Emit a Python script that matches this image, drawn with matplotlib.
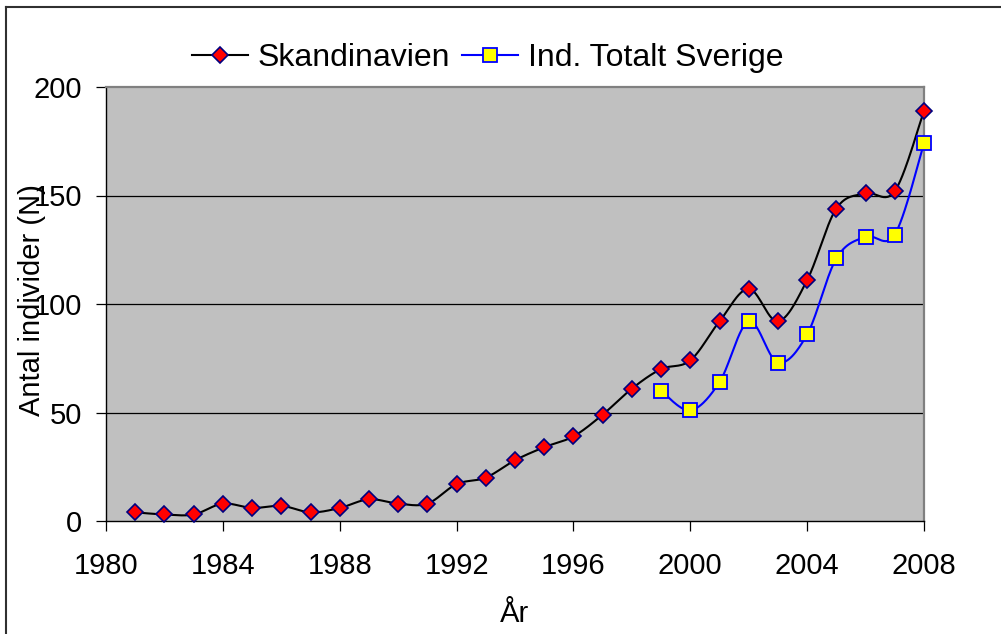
import numpy as np
import matplotlib
matplotlib.use("Agg")
import matplotlib.pyplot as plt
from matplotlib.lines import Line2D

# ---- data ----
years_skand = [1981, 1982, 1983, 1984, 1985, 1986, 1987, 1988, 1989, 1990,
               1991, 1992, 1993, 1994, 1995, 1996, 1997, 1998, 1999, 2000,
               2001, 2002, 2003, 2004, 2005, 2006, 2007, 2008]
skandinavien = [4, 3, 3, 8, 6, 7, 4, 6, 10, 8,
                8, 17, 20, 28, 34, 39, 49, 61, 70, 74,
                92, 107, 92, 111, 144, 151, 152, 189]
years_sverige = [1999, 2000, 2001, 2002, 2003, 2004, 2005, 2006, 2007, 2008]
sverige = [60, 51, 64, 92, 73, 86, 121, 131, 132, 174]
x_ticks = [1980, 1984, 1988, 1992, 1996, 2000, 2004, 2008]
y_ticks = [0, 50, 100, 150, 200]
series_names = ["Skandinavien", "Ind. Totalt Sverige"]
x_label = "År"
y_label = "Antal individer (N)"


def smooth(xs, ys, n=30):
    """Excel-style smoothed line (Catmull-Rom Bezier)."""
    P = np.column_stack([xs, ys]).astype(float)
    m = len(P)
    out = []
    t = np.linspace(0, 1, n)[:, None]
    for i in range(m - 1):
        p0 = P[i]
        p3 = P[i + 1]
        pm = P[i - 1] if i > 0 else P[i]
        pp = P[i + 2] if i + 2 < m else P[i + 1]
        c1 = p0 + (p3 - pm) / 6.0
        c2 = p3 - (pp - p0) / 6.0
        seg = ((1 - t) ** 3) * p0 + 3 * ((1 - t) ** 2) * t * c1 + 3 * (1 - t) * t ** 2 * c2 + t ** 3 * p3
        out.append(seg if i == 0 else seg[1:])
    arr = np.vstack(out)
    return arr[:, 0], arr[:, 1]


plt.rcParams['font.family'] = ['Liberation Sans', 'DejaVu Sans']

W, H = 1001, 634
fig = plt.figure(figsize=(W / 100, H / 100), dpi=100)
fig.patch.set_facecolor('white')

ax = fig.add_axes([106 / W, 1 - 521 / H, (924 - 106) / W, (521 - 87) / H])
ax.set_facecolor('#C0C0C0')

for yv in y_ticks[1:-1]:
    ax.axhline(yv, color='black', lw=0.9, zorder=1)

sx, sy = smooth(years_skand, skandinavien)
ax.plot(sx, sy, color='black', lw=1.5, zorder=3, solid_capstyle='round')
ax.plot(years_skand, skandinavien, ls='none', marker='D', ms=8.5,
        mfc='#FF0000', mec='#000080', mew=1.2, zorder=4, clip_on=False)

vx, vy = smooth(years_sverige, sverige)
ax.plot(vx, vy, color='#0000FF', lw=1.5, zorder=3)
ax.plot(years_sverige, sverige, ls='none', marker='s', ms=10.5,
        mfc='#FFFF00', mec='#0000FF', mew=1.3, zorder=5, clip_on=False)

ax.set_xlim(1980, 2008)
ax.set_ylim(0, 200)
ax.set_xticks(x_ticks)
ax.set_yticks(y_ticks)
ax.tick_params(axis='both', direction='out', length=7.2, width=0.9,
               color='black', labelsize=21, labelcolor='black')
ax.tick_params(axis='x', pad=15)
ax.tick_params(axis='y', pad=10)

for s in ['left', 'bottom']:
    ax.spines[s].set_color('black')
    ax.spines[s].set_linewidth(1.0)
for s in ['top', 'right']:
    ax.spines[s].set_color('#808080')
    ax.spines[s].set_linewidth(1.6)

ax.set_xlabel(x_label, fontsize=21, va='center')
ax.xaxis.set_label_coords(0.5, (521 - 614) / (521 - 87))
ax.set_ylabel(y_label, fontsize=21, va='center')
ax.yaxis.set_label_coords((32 - 106) / (924 - 106), 0.51)

handles = [
    Line2D([], [], color='black', lw=1.5, marker='D', ms=8.5, mfc='#FF0000',
           mec='#000080', mew=1.2),
    Line2D([], [], color='#0000FF', lw=1.5, marker='s', ms=10.5, mfc='#FFFF00',
           mec='#0000FF', mew=1.3),
]
fig.legend(handles, series_names, loc='center', bbox_to_anchor=(487.5 / W, 1 - 58 / H),
           ncol=2, frameon=False, fontsize=23, handlelength=1.75, handletextpad=0.3,
           columnspacing=0.4, borderpad=0, borderaxespad=0)

# outer chart border
fig.add_artist(Line2D([6 / W, 6 / W], [0, 1 - 7 / H], transform=fig.transFigure,
                      color='#303030', lw=1.5))
fig.add_artist(Line2D([6 / W, 1], [1 - 7 / H, 1 - 7 / H], transform=fig.transFigure,
                      color='#303030', lw=1.5))

fig.savefig('out.png', dpi=100, facecolor='white')
